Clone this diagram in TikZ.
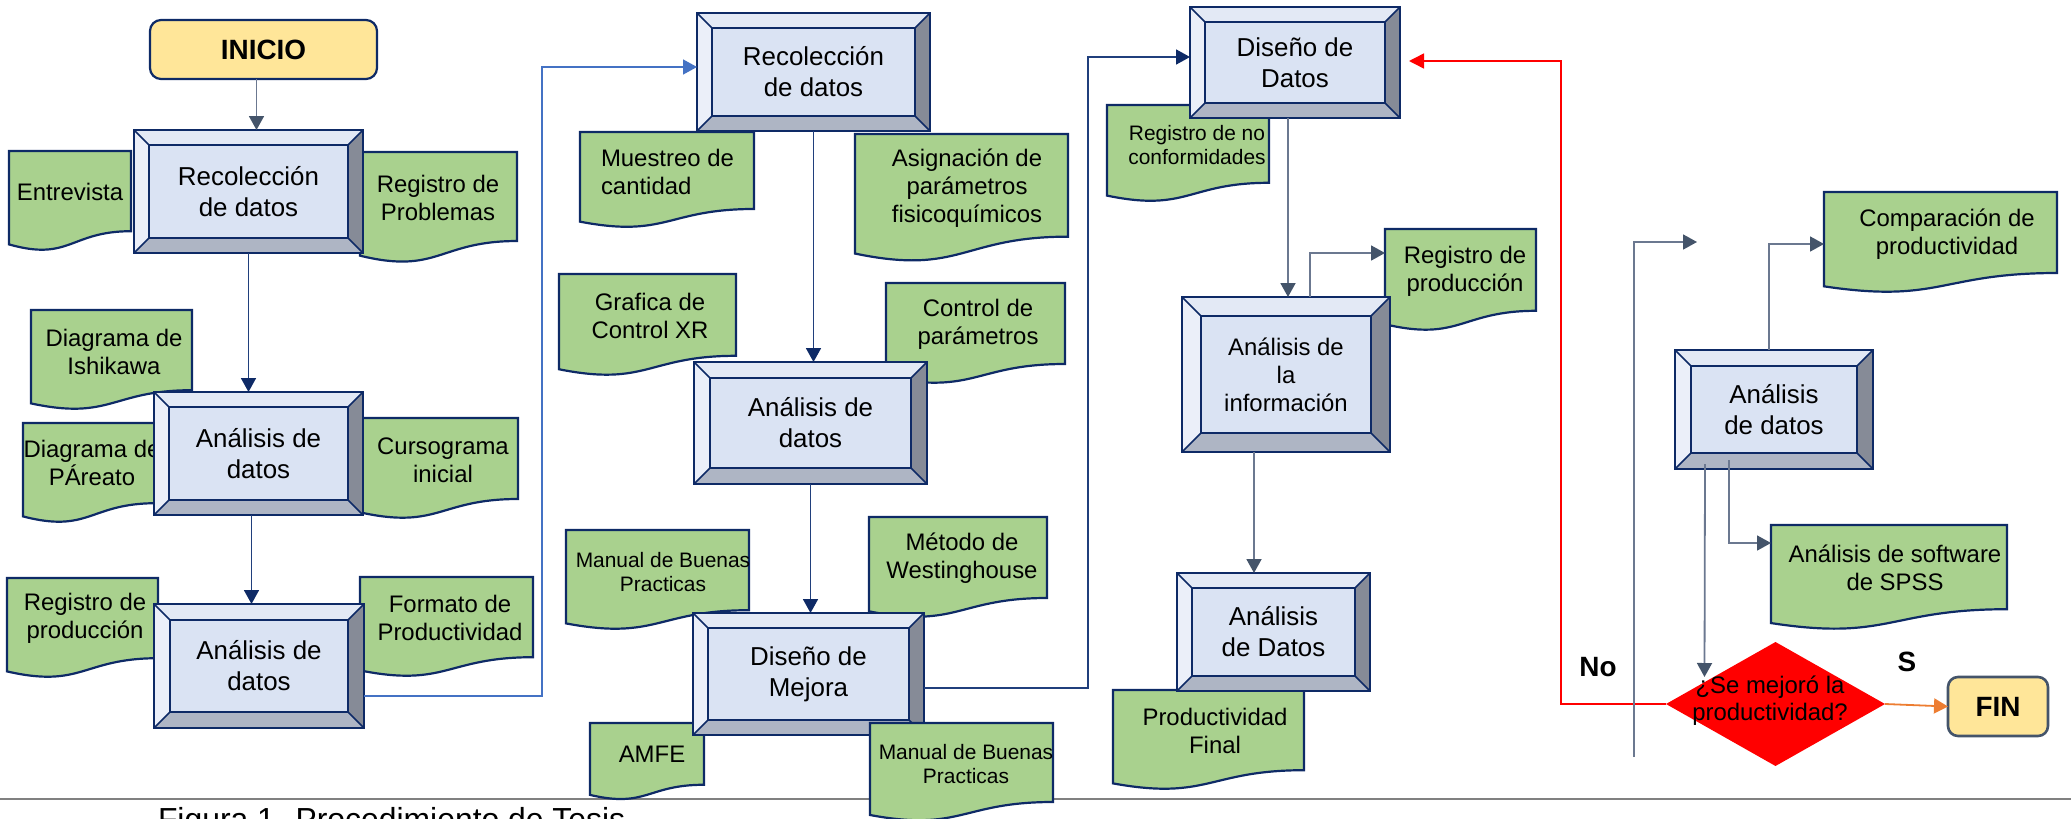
\documentclass[tikz,border=0pt]{standalone}
\usepackage{fontspec}
\setmainfont{Liberation Sans}
\usetikzlibrary{calc,arrows.meta,shapes.geometric}

\definecolor{cNavy}{HTML}{0E2A66}
\definecolor{cNavyL}{HTML}{203F7C}
\definecolor{cGreen}{HTML}{A9D18E}
\definecolor{cYellow}{HTML}{FFE699}
\definecolor{cInner}{HTML}{DAE3F3}
\definecolor{cTop}{HTML}{E3E9F5}
\definecolor{cLeft}{HTML}{EBEFF9}
\definecolor{cRight}{HTML}{868B97}
\definecolor{cBot}{HTML}{AEB5C4}
\definecolor{cGray}{HTML}{44546A}
\definecolor{cGrayL}{HTML}{6B7890}
\definecolor{cBlue}{HTML}{4472C4}
\definecolor{cRed}{HTML}{FF0000}
\definecolor{cOrange}{HTML}{ED7D31}
\definecolor{cSep}{HTML}{808080}

% document shape: name, x1, y1, x2, h
\newcommand\docu[5]{%
  \node[docframe, minimum width={(#4-#2)*1bp}, minimum height={#5*1bp}, anchor=north west] (#1) at (#2,#3) {};
  \draw[docshape] (#1.north west) -- (#1.north east) -- ($(#1.north east)!0.802!(#1.south east)$)
     .. controls ($(#1.north)!0.802!(#1.south)$) and ($(#1.north)!1.107!(#1.south)$) ..
     ($(#1.north west)!0.934!(#1.south west)$) -- cycle;
}
% text of a document shape: name, x, y, style, text
\newcommand\dtxt[5]{%
  \begin{scope}
    \clip ([xshift=-1bp,yshift=1bp]#1.north west) rectangle ([xshift=1bp,yshift=-30bp]#1.south east);
    \node[#4] (#1-t) at (#2,#3) {#5};
  \end{scope}
}
% bevelled box: name, x1, y1, x2, y2, bevel, style, text
\newcommand\bevbox[8]{%
  \pgfmathsetmacro\bxa{#2+#6}\pgfmathsetmacro\bxb{#4-#6}%
  \pgfmathsetmacro\bya{#3+#6}\pgfmathsetmacro\byb{#5-#6}%
  \fill[cTop] (#2,#3) -- (#4,#3) -- (\bxb,\bya) -- (\bxa,\bya) -- cycle;
  \fill[cRight] (#4,#3) -- (#4,#5) -- (\bxb,\byb) -- (\bxb,\bya) -- cycle;
  \fill[cBot] (#4,#5) -- (#2,#5) -- (\bxa,\byb) -- (\bxb,\byb) -- cycle;
  \fill[cLeft] (#2,#5) -- (#2,#3) -- (\bxa,\bya) -- (\bxa,\byb) -- cycle;
  \draw[bvline, fill=cInner] (\bxa,\bya) rectangle (\bxb,\byb);
  \draw[bvthin] (#2,#3) -- (\bxa,\bya) (#4,#3) -- (\bxb,\bya) (#4,#5) -- (\bxb,\byb) (#2,#5) -- (\bxa,\byb);
  \draw[bvline] (#2,#3) rectangle (#4,#5);
  \node[#7, minimum width={(#4-#2)*1bp}, minimum height={(#5-#3)*1bp}] (#1) at ({(#2+#4)/2},{(#3+#5)/2}) {#8};
}

\begin{document}
\begin{tikzpicture}[x=1bp,y=-1bp,
  every node/.style={inner sep=0pt, outer sep=0pt},
  bxt/.style={font=\fontsize{26}{31}\selectfont, align=center},
  bxts/.style={font=\fontsize{24}{28}\selectfont, align=center},
  dtx/.style={font=\fontsize{24}{28}\selectfont, align=center},
  dts/.style={font=\fontsize{21}{24}\selectfont, align=center},
  lbl/.style={font=\bfseries\fontsize{28}{32}\selectfont},
  docframe/.style={draw=none, rectangle},
  docshape/.style={draw=cNavy, line width=2.2bp, fill=cGreen},
  bvline/.style={draw=cNavy, line width=2.4bp},
  bvthin/.style={draw=cNavy, line width=1.6bp},
  startend/.style={rectangle, rounded corners=11bp, fill=cYellow, minimum height=59bp,
                   font=\bfseries\fontsize{28}{34}\selectfont},
  narr/.style={draw=cNavyL, line width=1.8bp, -{Triangle[width=15bp,length=14bp,color=cNavy]}},
  garr/.style={draw=cGrayL, line width=1.8bp, -{Triangle[width=15bp,length=14bp,color=cGray]}},
  barr/.style={draw=cBlue, line width=1.5bp, -{Triangle[width=15bp,length=14bp]}},
  rarr/.style={draw=cRed, line width=1.5bp, -{Triangle[width=15bp,length=15bp]}},
  oarr/.style={draw=cOrange, line width=1.8bp, -{Triangle[width=15bp,length=14bp]}},
  sepline/.style={draw=cSep, line width=2.5bp}
]
\useasboundingbox (0,0) rectangle (2071,819);

\draw[sepline] (0,799) -- (2071,799);

% ---- documents lying under the boxes
\docu{entr}{9}{151}{131}{100}
\dtxt{entr}{70}{192}{dtx}{Entrevista}
\docu{regprob}{360}{152}{517}{111}
\dtxt{regprob}{438}{198}{dtx}{Registro de\\Problemas}
\docu{ishi}{31}{310}{192}{100}
\dtxt{ishi}{114}{352}{dtx}{Diagrama de\\Ishikawa}
\docu{pare}{23}{423}{156}{100}
\dtxt{pare}{92}{463}{dtx}{Diagrama de\\PÁreato}
\docu{curso}{360}{418}{518}{101}
\dtxt{curso}{443}{460}{dtx}{Cursograma\\inicial}
\docu{rprod}{7}{578}{158}{100}
\dtxt{rprod}{85}{618}{dtx}{Registro de\\producción}
\docu{form}{360}{577}{533}{100}
\dtxt{form}{450}{618}{dtx}{Formato de\\Productividad}
\docu{mues}{580}{132}{754}{96}
\dtxt{mues}{601}{172}{dtx,align=left,anchor=west}{Muestreo de\\cantidad}
\docu{asig}{855}{134}{1068}{128}
\dtxt{asig}{967}{188}{dtx}{Asignación de\\parámetros\\fisicoquímicos}
\docu{graf}{559}{274}{736}{102}
\dtxt{graf}{650}{316}{dtx}{Grafica de\\Control XR}
\docu{ctrl}{886}{283}{1065}{101}
\dtxt{ctrl}{978}{324}{dtx}{Control de\\parámetros}
\docu{manA}{566}{530}{749}{100}
\dtxt{manA}{663}{572}{dts}{Manual de Buenas\\Practicas}
\docu{meto}{869}{517}{1047}{101}
\dtxt{meto}{962}{558}{dtx}{Método de\\Westinghouse}
\docu{amfe}{590}{723}{704}{77}
\dtxt{amfe}{652}{754}{dtx}{AMFE}
\docu{rnc}{1107}{105}{1269}{97}
\dtxt{rnc}{1197}{145}{dts}{Registro de no\\conformidades}
\docu{rp2}{1385}{229}{1536}{102}
\dtxt{rp2}{1465}{271}{dtx}{Registro de\\producción}
\docu{pfin}{1113}{690}{1304}{100}
\dtxt{pfin}{1215}{731}{dtx}{Productividad\\Final}
\docu{comp}{1824}{192}{2057}{101}
\dtxt{comp}{1947}{234}{dtx}{Comparación de\\productividad}
\docu{spss}{1771}{525}{2007}{105}
\dtxt{spss}{1895}{568}{dtx}{Análisis de software\\de SPSS}

% ---- start / end
\node[startend, draw=cNavy, line width=2.2bp, minimum width=227bp] (inicio) at (263.5,49.5) {INICIO};
\node[startend, draw=cGray, line width=2.6bp, minimum width=100bp, rounded corners=10bp] (fin) at (1998,706.5) {FIN};

% ---- bevelled process boxes
\bevbox{b1}{134}{130}{363}{253}{15}{bxt}{Recolección\\de datos}
\bevbox{b2}{154}{392}{363}{515}{15}{bxt}{Análisis de\\datos}
\bevbox{b3}{154}{604}{364}{728}{16}{bxt}{Análisis de\\datos}
\bevbox{b4}{697}{13}{930}{131}{15}{bxt}{Recolección\\de datos}
\bevbox{b5}{694}{362}{927}{484}{16}{bxt}{Análisis de\\datos}
\bevbox{b6}{693}{613}{924}{735}{15}{bxt}{Diseño de\\Mejora}
\bevbox{b7}{1190}{7}{1400}{118}{15}{bxt}{Diseño de\\Datos}
\bevbox{b8}{1182}{297}{1390}{452}{19}{bxts}{Análisis de\\la\\información}
\bevbox{b9}{1177}{573}{1370}{691}{15}{bxt}{Análisis\\de Datos}
\bevbox{b10}{1675}{350}{1873}{469}{16}{bxt}{Análisis\\de datos}

% ---- document lying over a box
\docu{manB}{870}{723}{1053}{98.5}
\dtxt{manB}{966}{764}{dts}{Manual de Buenas\\Practicas}

% ---- decision
\node[diamond, fill=cRed, draw=none, minimum width=219bp, minimum height=124bp] (dia) at (1775.5,704) {};

% ---- connectors
\coordinate (s1) at ([xshift=-7bp]inicio.south);
\draw[garr] (s1) -- (s1 |- b1.north);
\draw[narr] (b1.south) -- (b1.south |- b2.north);
\coordinate (s2) at ([xshift=-7bp]b2.south);
\draw[narr] (s2) -- (s2 |- b3.north);
\coordinate (j1) at (542,67);
\draw[barr] ([yshift=-30bp]b3.east) -| (j1) -- (j1 -| b4.west);
\draw[narr] (b4.south) -- (b4.south |- b5.north);
\draw[narr] (b5.south) -- (b5.south |- b6.north);
\coordinate (j2) at (1088,57);
\draw[narr] ([yshift=-14bp]b6.east) -| (j2) -- (j2 -| b7.west);
\coordinate (s3) at ([xshift=-7bp]b7.south);
\draw[garr] (s3) -- (s3 |- b8.north);
\draw[garr] ([xshift=24bp]b8.north) |- ([yshift=-24bp]rp2.north west);
\coordinate (s4) at ([xshift=-32bp]b8.south);
\draw[garr] (s4) -- (s4 |- b9.north);
\draw[garr] ([xshift=-5bp]b10.north) |- ([yshift=-52bp]comp.north west);
\draw[garr] ([xshift=-45bp,yshift=9bp]b10.south) |- ([yshift=-18bp]spss.north west);
\draw[garr] ([xshift=-69bp,yshift=5bp]b10.south) -- ([xshift=-71bp,yshift=27bp]dia.center);
\coordinate (j3) at (1561,61);
\draw[rarr, shorten >=9bp] (dia.west) -| (j3) -- (j3 -| b7.east);
\draw[oarr] (dia.east) -- (fin.west);
\coordinate (f1) at (1634,757);
\coordinate (f2) at (1697,242);
\draw[garr] (f1) |- (f2);

% ---- texts
\node[font=\fontsize{24}{27}\selectfont, align=center] (diat) at (1770,701) {¿Se mejoró la\\productividad?};
\node[lbl] (no) at (1598,667) {No};
\node[lbl] (si) at (1907,662) {S};
\node[anchor=base west, font=\fontsize{32}{38}\selectfont] (cap) at (158,830) {Figura 1. Procedimiento de Tesis};
\end{tikzpicture}
\end{document}
